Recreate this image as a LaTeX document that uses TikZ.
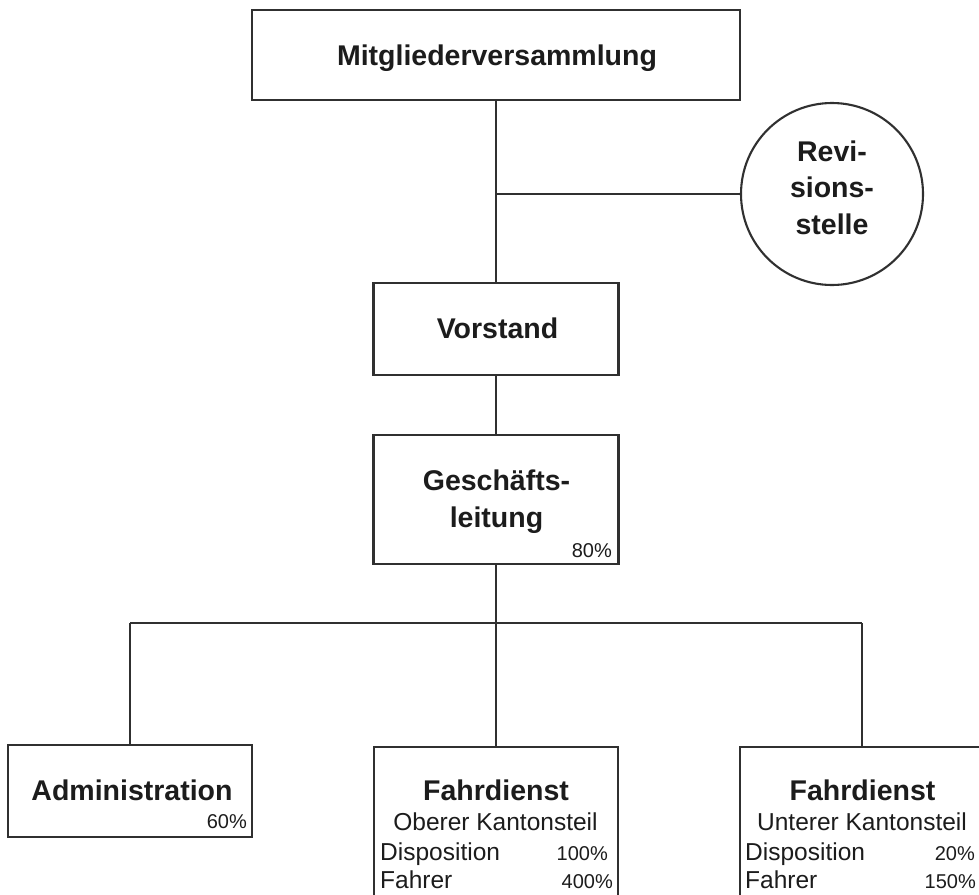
\documentclass[tikz,border=0pt]{standalone}
\usepackage{fontspec}
\setmainfont{Liberation Sans}
\definecolor{linec}{HTML}{303030}
\definecolor{textc}{HTML}{1C1C1C}
\begin{document}
\begin{tikzpicture}[x=1pt,y=-1pt,
  box/.style={draw=linec,line width=2.1pt,fill=white,inner sep=0pt},
  ttl/.style={font=\bfseries\fontsize{28.5}{36.5}\selectfont,text=textc,inner sep=0pt},
  sub/.style={font=\fontsize{24.5}{28}\selectfont,text=textc,inner sep=0pt},
  pct/.style={font=\fontsize{20}{24}\selectfont,text=textc,inner sep=0pt},
  conn/.style={draw=linec,line width=2.1pt}]
\useasboundingbox (0,0) rectangle (979,894);
\clip (0,0) rectangle (979,894);
\fill[white] (0,0) rectangle (979,894);
% boxes
\node[box,minimum width=488pt,minimum height=90pt] (mv) at (496,55) {};
\node[box,circle,minimum size=182pt] (rev) at (832,194) {};
\node[box,minimum width=245pt,minimum height=92pt] (vs) at (496,329) {};
\node[box,minimum width=245pt,minimum height=129pt] (gl) at (496,499.5) {};
\node[box,minimum width=244pt,minimum height=92pt] (adm) at (130,791) {};
\node[box,minimum width=244pt,minimum height=160pt,anchor=north] (fd1) at (496,746) {};
\node[box,minimum width=244pt,minimum height=160pt,anchor=north] (fd2) at (862,746) {};
% connectors
\coordinate (j1) at (496,194);
\coordinate (bl) at (130,623);
\coordinate (bm) at (496,623);
\coordinate (br) at (862,623);
\draw[conn] (mv.south) -- (vs.north);
\draw[conn] (j1) -- (rev.west);
\draw[conn] (vs.south) -- (gl.north);
\draw[conn] (gl.south) -- (bm);
\draw[conn] (bl) -- (br);
\draw[conn] (bl) -- (adm.north);
\draw[conn] (bm) -- (fd1.north);
\draw[conn] (br) -- (fd2.north);
% texts
\node[ttl,anchor=base] (tmv) at (497,65) {Mitgliederversammlung};
\node[ttl,align=center] (trev) at (832,187.5) {Revi-\\sions-\\stelle};
\node[ttl,anchor=base] (tvs) at (497.5,338) {Vorstand};
\node[ttl,align=center] (tgl) at (496.5,501.5) {Geschäfts-\\leitung};
\node[pct,anchor=base east] (pgl) at (612,557) {80\%};
\node[ttl,anchor=base] (tadm) at (132,800) {Administration};
\node[pct,anchor=base east] (padm) at (247,828) {60\%};
% Fahrdienst oberer
\node[ttl,anchor=base] (tfd1) at (496,800) {Fahrdienst};
\node[sub,anchor=base] (sfd1) at (495.5,830) {Oberer Kantonsteil};
\node[sub,anchor=base west] (d1) at (380,860) {Disposition};
\node[pct,anchor=base east] (pd1) at (608,860) {100\%};
\node[sub,anchor=base west] (f1) at (380,888) {Fahrer};
\node[pct,anchor=base east] (pf1) at (613,888) {400\%};
% Fahrdienst unterer
\node[ttl,anchor=base] (tfd2) at (862.5,800) {Fahrdienst};
\node[sub,anchor=base] (sfd2) at (862,830) {Unterer Kantonsteil};
\node[sub,anchor=base west] (d2) at (745,860) {Disposition};
\node[pct,anchor=base east] (pd2) at (975,860) {20\%};
\node[sub,anchor=base west] (f2) at (745,888) {Fahrer};
\node[pct,anchor=base east] (pf2) at (976,888) {150\%};
\end{tikzpicture}
\end{document}
